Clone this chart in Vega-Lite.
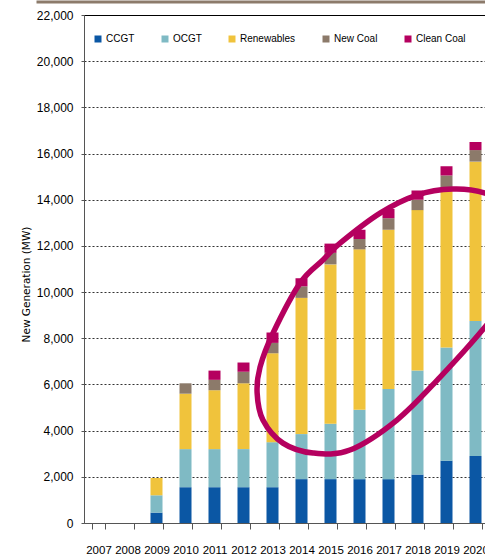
{
  "$schema": "https://vega.github.io/schema/vega-lite/v6.json",
  "width": 401,
  "height": 508,
  "autosize": {"type": "none"},
  "padding": {"left": 84, "top": 15, "right": 0, "bottom": 37},
  "background": "white",
  "config": {
    "view": {"stroke": null},
    "font": "Liberation Sans, Arial, sans-serif"
  },
  "datasets": {
    "gen": [
      {"year": 2009, "type": "CCGT", "k": 1, "mw": 450},
      {"year": 2009, "type": "OCGT", "k": 2, "mw": 750},
      {"year": 2009, "type": "Renewables", "k": 3, "mw": 750},
      {"year": 2010, "type": "CCGT", "k": 1, "mw": 1550},
      {"year": 2010, "type": "OCGT", "k": 2, "mw": 1650},
      {"year": 2010, "type": "Renewables", "k": 3, "mw": 2400},
      {"year": 2010, "type": "New Coal", "k": 4, "mw": 450},
      {"year": 2011, "type": "CCGT", "k": 1, "mw": 1550},
      {"year": 2011, "type": "OCGT", "k": 2, "mw": 1650},
      {"year": 2011, "type": "Renewables", "k": 3, "mw": 2550},
      {"year": 2011, "type": "New Coal", "k": 4, "mw": 450},
      {"year": 2011, "type": "Clean Coal", "k": 5, "mw": 400},
      {"year": 2012, "type": "CCGT", "k": 1, "mw": 1550},
      {"year": 2012, "type": "OCGT", "k": 2, "mw": 1650},
      {"year": 2012, "type": "Renewables", "k": 3, "mw": 2850},
      {"year": 2012, "type": "New Coal", "k": 4, "mw": 500},
      {"year": 2012, "type": "Clean Coal", "k": 5, "mw": 400},
      {"year": 2013, "type": "CCGT", "k": 1, "mw": 1550},
      {"year": 2013, "type": "OCGT", "k": 2, "mw": 1950},
      {"year": 2013, "type": "Renewables", "k": 3, "mw": 3850},
      {"year": 2013, "type": "New Coal", "k": 4, "mw": 450},
      {"year": 2013, "type": "Clean Coal", "k": 5, "mw": 450},
      {"year": 2014, "type": "CCGT", "k": 1, "mw": 1900},
      {"year": 2014, "type": "OCGT", "k": 2, "mw": 1950},
      {"year": 2014, "type": "Renewables", "k": 3, "mw": 5900},
      {"year": 2014, "type": "New Coal", "k": 4, "mw": 500},
      {"year": 2014, "type": "Clean Coal", "k": 5, "mw": 350},
      {"year": 2015, "type": "CCGT", "k": 1, "mw": 1900},
      {"year": 2015, "type": "OCGT", "k": 2, "mw": 2400},
      {"year": 2015, "type": "Renewables", "k": 3, "mw": 6900},
      {"year": 2015, "type": "New Coal", "k": 4, "mw": 500},
      {"year": 2015, "type": "Clean Coal", "k": 5, "mw": 400},
      {"year": 2016, "type": "CCGT", "k": 1, "mw": 1900},
      {"year": 2016, "type": "OCGT", "k": 2, "mw": 3000},
      {"year": 2016, "type": "Renewables", "k": 3, "mw": 6950},
      {"year": 2016, "type": "New Coal", "k": 4, "mw": 450},
      {"year": 2016, "type": "Clean Coal", "k": 5, "mw": 400},
      {"year": 2017, "type": "CCGT", "k": 1, "mw": 1900},
      {"year": 2017, "type": "OCGT", "k": 2, "mw": 3900},
      {"year": 2017, "type": "Renewables", "k": 3, "mw": 6900},
      {"year": 2017, "type": "New Coal", "k": 4, "mw": 500},
      {"year": 2017, "type": "Clean Coal", "k": 5, "mw": 400},
      {"year": 2018, "type": "CCGT", "k": 1, "mw": 2100},
      {"year": 2018, "type": "OCGT", "k": 2, "mw": 4500},
      {"year": 2018, "type": "Renewables", "k": 3, "mw": 6950},
      {"year": 2018, "type": "New Coal", "k": 4, "mw": 450},
      {"year": 2018, "type": "Clean Coal", "k": 5, "mw": 400},
      {"year": 2019, "type": "CCGT", "k": 1, "mw": 2700},
      {"year": 2019, "type": "OCGT", "k": 2, "mw": 4900},
      {"year": 2019, "type": "Renewables", "k": 3, "mw": 6800},
      {"year": 2019, "type": "New Coal", "k": 4, "mw": 650},
      {"year": 2019, "type": "Clean Coal", "k": 5, "mw": 400},
      {"year": 2020, "type": "CCGT", "k": 1, "mw": 2900},
      {"year": 2020, "type": "OCGT", "k": 2, "mw": 5850},
      {"year": 2020, "type": "Renewables", "k": 3, "mw": 6900},
      {"year": 2020, "type": "New Coal", "k": 4, "mw": 500},
      {"year": 2020, "type": "Clean Coal", "k": 5, "mw": 350}
    ],
    "ring": [
      {"t": 2012.47, "mw": 5630},
      {"t": 2012.57, "mw": 6750},
      {"t": 2013.02, "mw": 8230},
      {"t": 2013.95, "mw": 10390},
      {"t": 2014.74, "mw": 11390},
      {"t": 2015.33, "mw": 12120},
      {"t": 2016.71, "mw": 13420},
      {"t": 2017.98, "mw": 14200},
      {"t": 2019.22, "mw": 14460},
      {"t": 2020.33, "mw": 14290},
      {"t": 2021.02, "mw": 13770},
      {"t": 2021.53, "mw": 12470},
      {"t": 2021.47, "mw": 10740},
      {"t": 2020.85, "mw": 9440},
      {"t": 2020.33, "mw": 8490},
      {"t": 2018.78, "mw": 6320},
      {"t": 2017.29, "mw": 4460},
      {"t": 2015.67, "mw": 3160},
      {"t": 2014.4, "mw": 3030},
      {"t": 2013.36, "mw": 3460},
      {"t": 2012.67, "mw": 4460}
    ]
  },
  "layer": [
    {
      "data": {"name": "gen"},
      "mark": {"type": "bar"},
      "encoding": {
        "x": {
          "field": "year",
          "type": "ordinal",
          "scale": {
            "domain": [2007, 2008, 2009, 2010, 2011, 2012, 2013, 2014, 2015, 2016, 2017, 2018, 2019, 2020],
            "range": [0, 406],
            "paddingInner": 0.586,
            "paddingOuter": 0.293
          },
          "axis": {
            "title": null,
            "labelAngle": 0,
            "labelFontSize": 11.5,
            "labelColor": "black",
            "labelPadding": 15,
            "tickBand": "extent",
            "tickSize": 6,
            "tickColor": "#555",
            "domainColor": "#555",
            "grid": false
          }
        },
        "y": {
          "field": "mw",
          "type": "quantitative",
          "stack": "zero",
          "title": "New Generation (MW)",
          "scale": {"domain": [0, 22000], "nice": false},
          "axis": {
            "titleFont": "DejaVu Sans",
            "titleFontSize": 10.5,
            "titleFontWeight": "normal",
            "titleColor": "black",
            "titleX": -53,
            "titleY": 269,
            "values": [0, 2000, 4000, 6000, 8000, 10000, 12000, 14000, 16000, 18000, 20000, 22000],
            "format": ",.0f",
            "labelFontSize": 12,
            "labelColor": "black",
            "labelPadding": 8,
            "tickSize": 3,
            "tickColor": "#555",
            "domainColor": "#555",
            "grid": true,
            "gridColor": "#333",
            "gridDash": [2, 2],
            "gridWidth": 1
          }
        },
        "order": {"field": "k", "type": "quantitative"},
        "color": {
          "field": "type",
          "type": "nominal",
          "sort": ["CCGT", "OCGT", "Renewables", "New Coal", "Clean Coal"],
          "scale": {
            "domain": ["CCGT", "OCGT", "Renewables", "New Coal", "Clean Coal"],
            "range": ["#0b57a4", "#7fbac4", "#f0c33c", "#8c7a6a", "#b5005f"]
          },
          "legend": {
            "title": null,
            "orient": "none",
            "legendX": 9,
            "legendY": 19,
            "direction": "horizontal",
            "symbolType": "square",
            "symbolSize": 49,
            "symbolStrokeWidth": 0,
            "labelFontSize": 10,
            "labelColor": "black",
            "labelOffset": 3,
            "columnPadding": 25
          }
        }
      }
    },
    {
      "data": {"name": "ring"},
      "mark": {"type": "line", "interpolate": "cardinal-closed", "stroke": "#b5005f", "strokeWidth": 5.5},
      "encoding": {
        "x": {
          "field": "t",
          "type": "quantitative",
          "scale": {"domain": [2006.5, 2020.5], "range": [0, 406], "nice": false, "zero": false},
          "axis": {"orient": "top", "labels": false, "ticks": false, "grid": false, "title": null, "domainColor": "black", "domainWidth": 1}
        },
        "y": {"field": "mw", "type": "quantitative", "title": "New Generation (MW)"},
        "order": {"value": null}
      }
    },
    {
      "data": {"name": "ring"},
      "mark": {"type": "point", "opacity": 0},
      "encoding": {
        "x": {
          "field": "t",
          "type": "quantitative",
          "scale": {"domain": [2006.5, 2020.5], "range": [-48, 406], "nice": false, "zero": false},
          "axis": {"orient": "top", "offset": 13.5, "labels": false, "ticks": false, "grid": false, "title": null, "domainColor": "#8c7b6b", "domainWidth": 3}
        },
        "y": {"field": "mw", "type": "quantitative", "title": "New Generation (MW)"}
      }
    }
  ],
  "resolve": {"scale": {"x": "independent"}, "axis": {"x": "independent"}}
}
